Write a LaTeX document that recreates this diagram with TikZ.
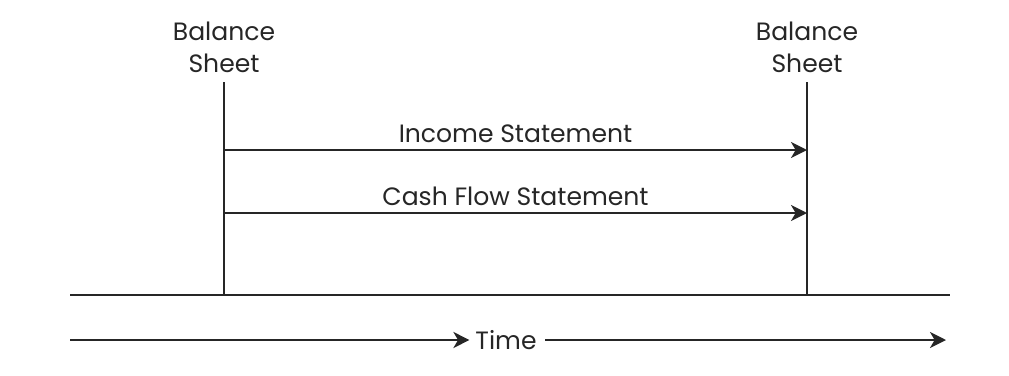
\documentclass[tikz,border=0pt]{standalone}
\usepackage{fontspec}
\setmainfont{Poppins}
\usetikzlibrary{arrows.meta}
\begin{document}
\begin{tikzpicture}[
x=0.75pt, y=-0.75pt,
every node/.style={font=\fontsize{18.8}{24}\selectfont, text=black!85},
rule/.style={line width=1.9pt, black!85},
flow/.style={rule, -{Stealth[length=12pt, width=12pt, inset=3.5pt]}}
]
\useasboundingbox (0,0) rectangle (1009,375);
% balance sheets at the two dates
\node[align=center] (bs1) at (224,47) {Balance\\Sheet};
\node[align=center] (bs2) at (807,47) {Balance\\Sheet};
\coordinate (top1) at (224,82);
\coordinate (top2) at (807,82);
\coordinate (bot1) at (224,296);
\coordinate (bot2) at (807,296);
\draw[rule] (top1) -- (bot1);
\draw[rule] (top2) -- (bot2);
% baseline
\coordinate (axl) at (70,295);
\coordinate (axr) at (950,295);
\draw[rule] (axl) -- (axr);
% statements between the dates
\coordinate (inc1) at (224,150);
\coordinate (inc2) at (807,150);
\coordinate (cash1) at (224,213);
\coordinate (cash2) at (807,213);
\draw[flow] (inc1) -- node[above=1pt] (inc) {Income Statement} (inc2);
\draw[flow] (cash1) -- node[above=1pt] (cash) {Cash Flow Statement} (cash2);
% time axis
\node (time) at (506,340) {Time};
\coordinate (tl) at (70,340);
\coordinate (tr) at (946,340);
\draw[flow] (tl) -- ([xshift=-1pt]time.west);
\draw[flow] ([xshift=3pt]time.east) -- (tr);
\end{tikzpicture}
\end{document}
